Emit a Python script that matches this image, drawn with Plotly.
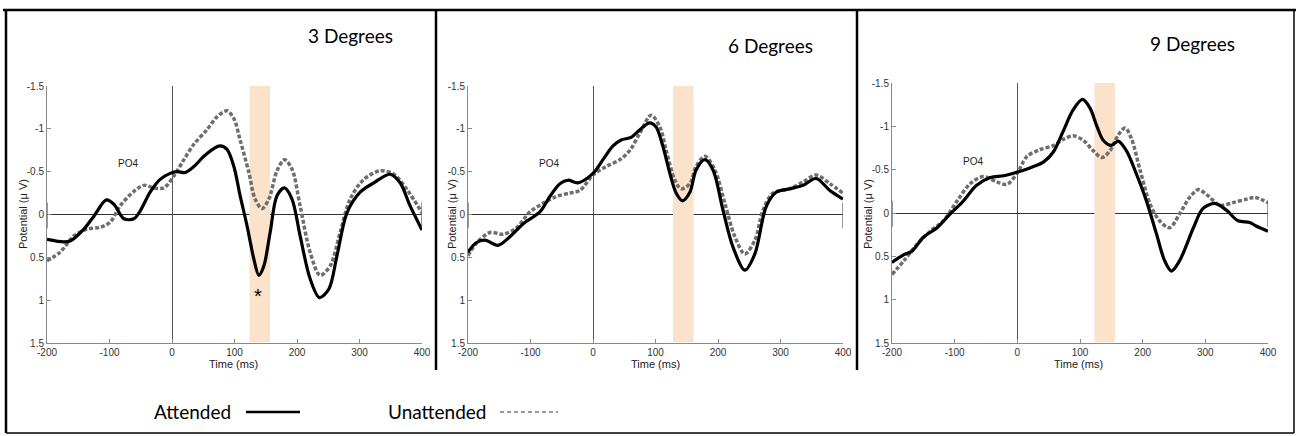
import plotly.graph_objects as go

W, H = 1298, 436

# ---------------- data ----------------
t_att_3 = [-200,-173,-163,-141,-125,-105,-93,-77,-61,-51,-35,-19,-3,8,21,35,51,67,77,88,99,109,120,131,139,147,157,168,180,192,205,221,236,251,264,280,301,323,349,365,381,400]
v_att_3 = [0.29,0.32,0.31,0.17,0.02,-0.17,-0.12,0.05,0.05,-0.04,-0.26,-0.41,-0.48,-0.5,-0.49,-0.56,-0.68,-0.77,-0.8,-0.76,-0.56,-0.22,0.13,0.52,0.71,0.6,0.21,-0.22,-0.31,-0.18,0.25,0.75,0.97,0.87,0.48,-0.02,-0.26,-0.37,-0.47,-0.37,-0.1,0.18]
t_un_3 = [-200,-179,-157,-136,-115,-99,-83,-61,-45,-29,-13,3,19,35,56,72,88,99,109,123,133,144,155,168,180,192,205,221,237,253,269,285,307,333,355,376,400]
v_un_3 = [0.54,0.44,0.25,0.17,0.15,0.09,-0.1,-0.27,-0.34,-0.31,-0.31,-0.45,-0.64,-0.82,-0.99,-1.14,-1.21,-1.12,-0.87,-0.49,-0.18,-0.07,-0.18,-0.51,-0.64,-0.53,-0.1,0.44,0.71,0.6,0.21,-0.18,-0.41,-0.51,-0.47,-0.29,-0.02]

t_att_6 = [-200,-187,-173,-152,-133,-112,-85,-69,-53,-40,-24,0,16,32,45,61,75,91,101,112,123,133,143,155,165,179,192,208,224,243,259,277,293,315,336,357,379,400]
v_att_6 = [0.44,0.33,0.3,0.36,0.26,0.11,-0.03,-0.21,-0.36,-0.4,-0.37,-0.48,-0.64,-0.8,-0.87,-0.9,-0.99,-1.07,-1.02,-0.79,-0.48,-0.25,-0.16,-0.26,-0.52,-0.64,-0.52,-0.05,0.38,0.65,0.46,-0.09,-0.26,-0.3,-0.34,-0.42,-0.28,-0.18]
t_un_6 = [-200,-187,-165,-144,-123,-101,-80,-59,-37,-21,0,21,43,59,75,93,107,117,131,141,155,165,179,195,211,227,243,259,272,288,315,336,357,379,400]
v_un_6 = [0.48,0.34,0.21,0.23,0.16,-0.03,-0.13,-0.21,-0.25,-0.28,-0.46,-0.56,-0.64,-0.75,-0.95,-1.16,-1.02,-0.75,-0.4,-0.3,-0.36,-0.56,-0.68,-0.52,-0.13,0.26,0.46,0.3,-0.05,-0.25,-0.3,-0.38,-0.46,-0.36,-0.25]

t_att_9 = [-200,-181,-168,-150,-128,-107,-86,-65,-43,-22,-1,20,42,58,73,89,104,116,127,137,150,161,174,190,206,222,235,246,259,281,296,315,334,352,371,381,400]
v_att_9 = [0.57,0.48,0.44,0.28,0.17,0.01,-0.14,-0.32,-0.41,-0.43,-0.47,-0.52,-0.59,-0.71,-0.94,-1.19,-1.31,-1.21,-1.0,-0.84,-0.78,-0.83,-0.72,-0.45,-0.14,0.24,0.55,0.67,0.55,0.17,-0.05,-0.11,-0.03,0.09,0.11,0.15,0.21]
t_un_9 = [-200,-181,-160,-139,-118,-96,-75,-54,-33,-17,-1,15,36,58,73,89,105,121,135,148,161,172,182,196,212,227,243,259,275,289,304,323,344,366,379,400]
v_un_9 = [0.71,0.55,0.36,0.21,0.09,-0.14,-0.34,-0.42,-0.36,-0.33,-0.45,-0.65,-0.73,-0.78,-0.85,-0.89,-0.84,-0.72,-0.64,-0.72,-0.9,-0.98,-0.86,-0.49,-0.1,0.09,0.17,0.01,-0.18,-0.27,-0.2,-0.09,-0.12,-0.16,-0.18,-0.12]

panel_titles = ["3 Degrees", "6 Degrees", "9 Degrees"]
bands = [(124, 157), (128, 161), (123, 156)]
x_ticks = [-200, -100, 0, 100, 200, 300, 400]
x_tick_text = ["-200", "-100", "0", "100", "200", "300", "400"]
y_ticks = [-1.5, -1, -0.5, 0, 0.5, 1, 1.5]
y_tick_text = ["-1.5", "-1", "-0.5", "0", "0.5", "1", "1.5"]
legend_labels = ["Attended", "Unattended"]

series = [(t_att_3, v_att_3, t_un_3, v_un_3),
          (t_att_6, v_att_6, t_un_6, v_un_6),
          (t_att_9, v_att_9, t_un_9, v_un_9)]

# ---------------- layout helpers ----------------
def px(x):
    return x / W

def py(y):
    return 1 - y / H

# pixel boxes of each plotting area: (left, right, top, bottom)
boxes = [(47, 422, 86, 343), (468, 843, 86, 343), (892, 1268, 83, 343)]
title_pos = [(350, 36), (770, 45), (1192, 43)]
ylab_x = [23, 452, 868]
xlab_x = [233, 655, 1078]

fig = go.Figure()
shapes = []
annotations = []

ATT_COLOR = "#000000"
UN_COLOR = "#6e6e6e"
BAND_COLOR = "#fbe3cb"
AX_COLOR = "#8a8a8a"
SANS = "Liberation Sans, Arial, sans-serif"
CAL = "Lato, Carlito, Calibri, sans-serif"


def paper_text(x, y, text, font, **kw):
    d = dict(x=px(x), y=py(y), xref="paper", yref="paper", text=text, showarrow=False,
             xanchor="center", yanchor="middle", font=font)
    d.update(kw)
    return d


for i, (ta, va, tu, vu) in enumerate(series):
    n = "" if i == 0 else str(i + 1)
    xa, ya = "x" + n, "y" + n
    l, r, t, b = boxes[i]
    fig.add_trace(go.Scatter(x=tu, y=vu, xaxis=xa, yaxis=ya, mode="lines",
                             line=dict(color=UN_COLOR, width=3.5, dash="4px,2px", shape="spline", smoothing=0.9),
                             showlegend=False, hoverinfo="skip"))
    fig.add_trace(go.Scatter(x=ta, y=va, xaxis=xa, yaxis=ya, mode="lines",
                             line=dict(color=ATT_COLOR, width=3.2, shape="spline", smoothing=0.9),
                             showlegend=False, hoverinfo="skip"))
    axis_common = dict(showgrid=False, showline=True, linecolor=AX_COLOR, linewidth=1,
                       ticks="inside", ticklen=4, tickcolor=AX_COLOR, mirror=False, automargin=False,
                       tickfont=dict(family=SANS, size=10, color="#333333"))
    fig.update_layout(**{
        ("xaxis" + n): dict(domain=[px(l), px(r)], range=[-200, 400], anchor=ya,
                           tickvals=x_ticks, ticktext=x_tick_text,
                           zeroline=True, zerolinecolor="#555555", zerolinewidth=1, **axis_common),
        ("yaxis" + n): dict(domain=[py(b), py(t)], range=[1.5, -1.5], anchor=xa,
                           tickvals=y_ticks, ticktext=y_tick_text,
                           zeroline=True, zerolinecolor="#333333", zerolinewidth=1, **axis_common),
    })
    # highlighted time window
    shapes.append(dict(type="rect", xref=xa, yref=ya, x0=bands[i][0], x1=bands[i][1],
                       y0=-1.5, y1=1.49, fillcolor=BAND_COLOR, line=dict(width=0), layer="between"))
    # little end marks on the zero line
    for xe in (-200, 400):
        shapes.append(dict(type="line", xref=xa, yref=ya, x0=xe, x1=xe, y0=-0.14, y1=0.16,
                           line=dict(color="#555555", width=1.2)))
    annotations.append(dict(x=-70, y=-0.6, xref=xa, yref=ya, text="PO4", showarrow=False,
                            xanchor="center", yanchor="middle",
                            font=dict(family=SANS, size=10, color="#222222")))
    annotations.append(paper_text(title_pos[i][0], title_pos[i][1], panel_titles[i],
                                  dict(family=CAL, size=19, color="#000000")))
    annotations.append(paper_text(ylab_x[i], 214, "Potential (\u03bc V)",
                                  dict(family=SANS, size=11, color="#222222"), textangle=-90))
    annotations.append(paper_text(xlab_x[i], 364, "Time (ms)",
                                  dict(family=SANS, size=11, color="#222222")))

annotations.append(dict(x=138, y=0.95, xref="x", yref="y", text="*", showarrow=False,
                        xanchor="center", yanchor="middle",
                        font=dict(family=SANS, size=20, color="#000000")))

# frame: outer border and panel dividers
frame = dict(color="#000000", width=2.5)
shapes.append(dict(type="line", xref="paper", yref="paper", x0=px(3), x1=px(1296), y0=py(10), y1=py(10), line=frame))
shapes.append(dict(type="line", xref="paper", yref="paper", x0=px(6), x1=px(6), y0=py(10), y1=py(433), line=frame))
shapes.append(dict(type="line", xref="paper", yref="paper", x0=px(1294), x1=px(1294), y0=py(10), y1=py(433), line=dict(color="#000000", width=1.5)))
shapes.append(dict(type="line", xref="paper", yref="paper", x0=px(6), x1=px(1294), y0=py(433), y1=py(433), line=dict(color="#000000", width=1.5)))
shapes.append(dict(type="line", xref="paper", yref="paper", x0=px(436), x1=px(436), y0=py(10), y1=py(370), line=frame))
shapes.append(dict(type="line", xref="paper", yref="paper", x0=px(857), x1=px(857), y0=py(10), y1=py(370), line=frame))

# legend (text followed by line sample)
annotations.append(paper_text(192, 411, legend_labels[0], dict(family=CAL, size=19, color="#000000")))
annotations.append(paper_text(437, 411, legend_labels[1], dict(family=CAL, size=19, color="#000000")))
shapes.append(dict(type="line", xref="paper", yref="paper", x0=px(246), x1=px(300), y0=py(412), y1=py(412),
                   line=dict(color="#000000", width=2.5)))
shapes.append(dict(type="line", xref="paper", yref="paper", x0=px(500), x1=px(558), y0=py(412), y1=py(412),
                   line=dict(color="#999999", width=2, dash="4px,3px")))

fig.update_layout(width=W, height=H, margin=dict(l=0, r=0, t=0, b=0, autoexpand=False),
                  paper_bgcolor="white", plot_bgcolor="white",
                  shapes=shapes, annotations=annotations, showlegend=False)

fig.write_html("out.html")
